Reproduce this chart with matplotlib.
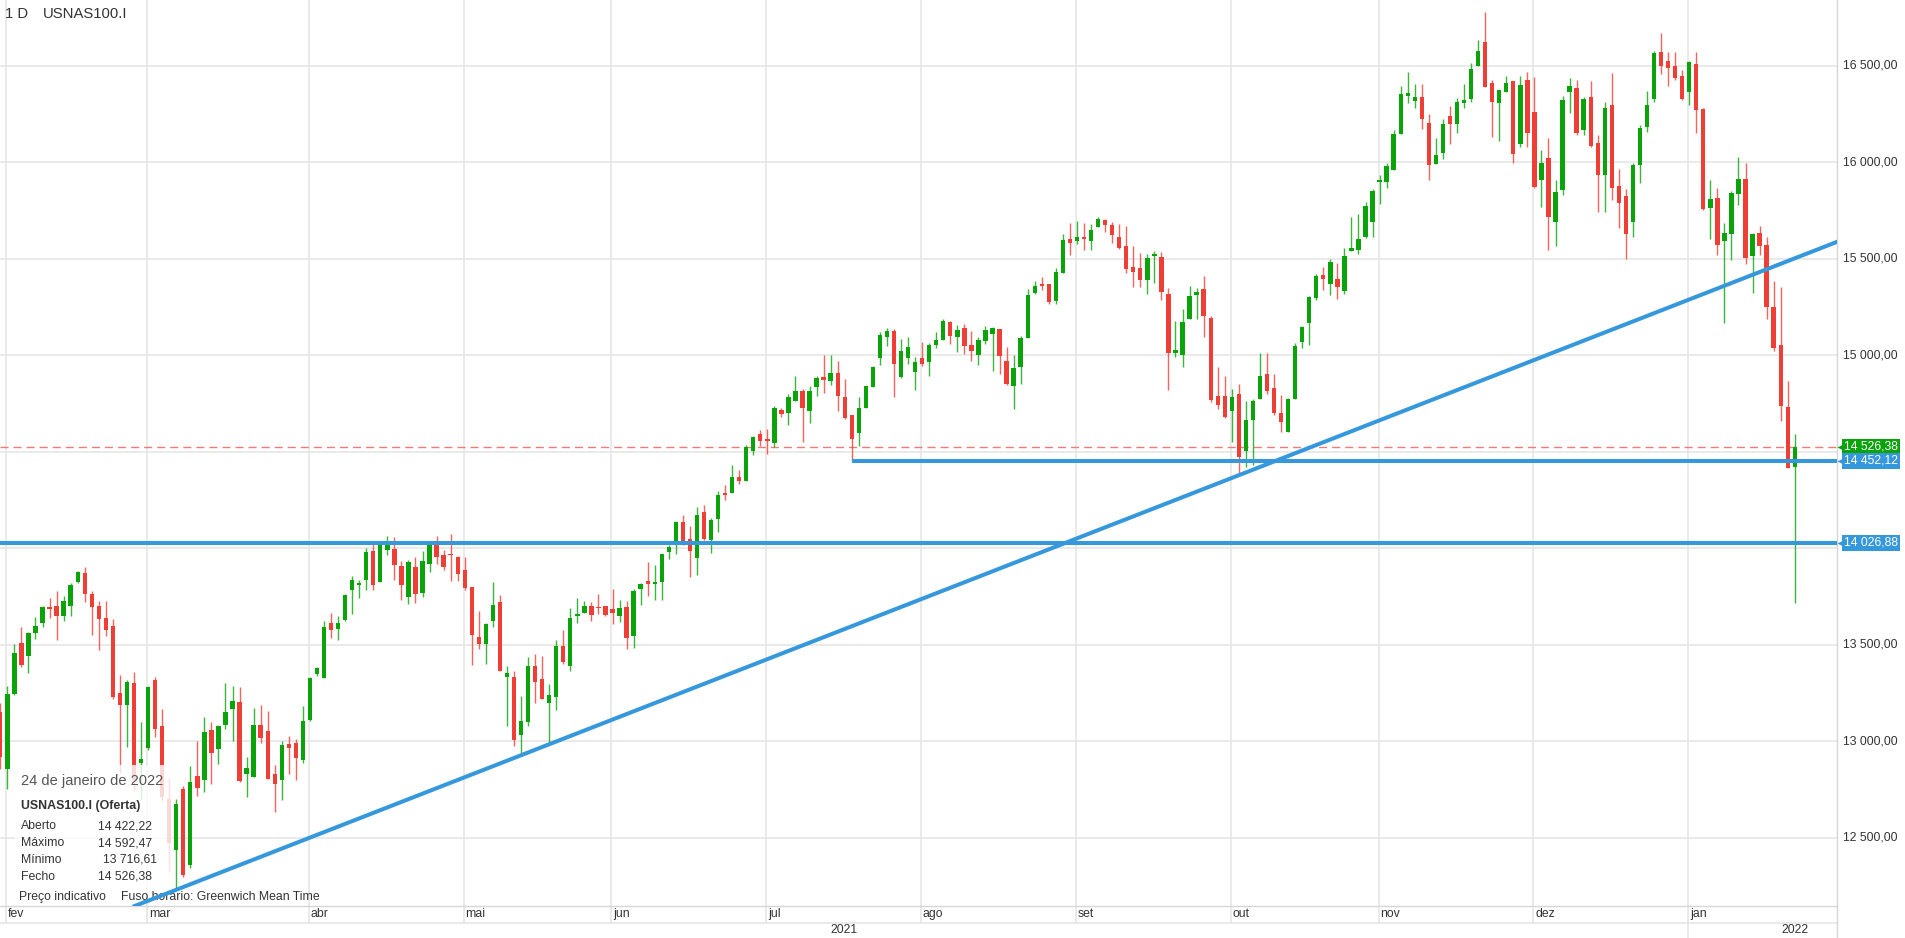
import matplotlib
matplotlib.use('Agg')
import matplotlib.pyplot as plt
import matplotlib.transforms as mtransforms
from matplotlib.patches import Rectangle
import numpy as np
import pandas as pd

plt.rcParams['font.family'] = ['Liberation Sans', 'DejaVu Sans']

SYMBOL = 'USNAS100.I'
TIMEFRAME = '1 D'
MONTHS_PT = ['jan', 'fev', 'mar', 'abr', 'mai', 'jun', 'jul', 'ago', 'set', 'out', 'nov', 'dez']

# daily sessions shown (no candle on Christmas Eve)
dates = pd.bdate_range('2021-01-29', '2022-01-24')
dates = dates[dates != pd.Timestamp('2021-12-24')]

opens = [
    13150,
    12855, 13245, 13509, 13440, 13560, 13611, 13693, 13702, 13651, 13699, 13827, 13873, 13762, 13702, 13639, 13599, 13248, 13185, 13300, 12889,
    12966, 13317, 13077, 12700, 12435, 12752, 12358, 12817, 12800, 13057, 12957, 13082, 13166, 13202, 12832, 12812, 13086, 13055, 12829, 12800, 12983, 12988, 12902,
    13108, 13348, 13325, 13613, 13580, 13628, 13782, 13810, 13834, 13984, 13825, 13988, 13997, 13907, 13745, 13902, 13770, 13916, 14027, 13967, 13972, 13954,
    13889, 13800, 13539, 13502, 13621, 13723, 13334, 13331, 13034, 13099, 13389, 13322, 13197, 13228, 13491, 13390, 13651, 13664, 13700, 13697, 13700,
    13684, 13650, 13695, 13544, 13788, 13829, 13814, 13826, 13980, 14014, 14133, 14048, 13951, 14189, 14044, 14150, 14287, 14287, 14369, 14350, 14503, 14590,
    14568, 14543, 14717, 14701, 14765, 14816, 14710, 14833, 14887, 14867, 14906, 14785, 14688, 14597, 14727, 14836, 14986, 15095, 15123, 14887, 14986, 14913,
    14983, 14965, 15050, 15081, 15170, 15093, 15140, 15050, 15002, 15071, 15111, 15137, 14972, 14841, 14940, 15090, 15320, 15367, 15370, 15280, 15427, 15604,
    15592, 15613, 15590, 15663, 15701, 15675, 15614, 15566, 15457, 15450, 15390, 15512, 15509, 15315, 15009, 15000, 15185, 15310, 15341, 15190, 14787, 14787,
    14712, 14799, 14505, 14665, 14775, 14903, 14830, 14700, 14601, 14775, 15069, 15165, 15295, 15416, 15368, 15394, 15330, 15541, 15545, 15610, 15688,
    15896, 15896, 15957, 16145, 16344, 16318, 16335, 16205, 15992, 16047, 16238, 16200, 16304, 16328, 16498, 16620, 16412, 16304, 16365, 16420, 16093, 16425,
    16262, 15905, 16020, 15692, 15857, 16361, 16383, 16169, 16337, 16099, 15931, 16294, 15877, 15825, 15692, 15984, 16183, 16327, 16571, 16526, 16496, 16446,
    16361, 16506, 16274, 15762, 15816, 15593, 15627, 15835, 15911, 15514, 15633, 15573, 15252, 15054, 14730, 14422.22,
]
highs = [
    13200,
    13288, 13505, 13594, 13565, 13645, 13702, 13741, 13776, 13753, 13817, 13882, 13902, 13779, 13728, 13728, 13634, 13342, 13317, 13360, 13098,
    13288, 13334, 13165, 12810, 12700, 12769, 12872, 13000, 13125, 13098, 13086, 13300, 13286, 13283, 12920, 13171, 13188, 13154, 12875, 13000, 13026, 13012, 13180,
    13335, 13385, 13625, 13664, 13651, 13762, 13856, 13836, 14002, 14036, 14039, 14061, 14056, 13936, 13937, 13954, 13984, 14036, 14062, 13993, 14075, 13960,
    13954, 13800, 13676, 13610, 13825, 13757, 13389, 13363, 13235, 13437, 13454, 13440, 13295, 13522, 13574, 13690, 13741, 13728, 13719, 13765, 13700,
    13788, 13729, 13724, 13788, 13817, 13928, 13915, 13971, 14014, 14142, 14171, 14113, 14215, 14222, 14154, 14295, 14329, 14432, 14406, 14534, 14580, 14614,
    14619, 14739, 14727, 14799, 14892, 14824, 14841, 14892, 15003, 15003, 14969, 14875, 14688, 14785, 14841, 14944, 15119, 15140, 15136, 15085, 15092, 14991,
    15068, 15064, 15121, 15188, 15175, 15157, 15163, 15123, 15093, 15149, 15144, 15137, 15040, 15003, 15099, 15341, 15384, 15405, 15370, 15453, 15626, 15687,
    15697, 15687, 15680, 15715, 15706, 15689, 15680, 15670, 15566, 15528, 15523, 15541, 15535, 15350, 15176, 15237, 15358, 15350, 15410, 15202, 14936, 14891,
    14827, 14848, 14760, 14774, 15012, 15012, 14903, 14791, 14778, 15064, 15151, 15307, 15420, 15458, 15498, 15477, 15555, 15718, 15732, 15792, 15862,
    15931, 15997, 16165, 16394, 16465, 16405, 16405, 16249, 16127, 16226, 16290, 16330, 16405, 16512, 16634, 16777, 16425, 16373, 16446, 16420, 16446, 16469,
    16443, 16065, 16125, 15905, 16343, 16437, 16423, 16337, 16421, 16139, 16312, 16462, 15964, 15861, 15996, 16194, 16367, 16575, 16671, 16571, 16571, 16476,
    16526, 16571, 16282, 15905, 15867, 15687, 15851, 16024, 15996, 15633, 15667, 15613, 15385, 15355, 14865, 14592.47,
]
lows = [
    12855,
    12750, 13240, 13385, 13354, 13531, 13594, 13639, 13526, 13622, 13651, 13822, 13719, 13548, 13474, 13543, 13220, 12837, 12971, 12740, 12700,
    12954, 13020, 12690, 12320, 12230, 12298, 12341, 12714, 12735, 12778, 12880, 13063, 13000, 12786, 12709, 12812, 12992, 12803, 12632, 12695, 12829, 12800, 12885,
    13103, 13340, 13325, 13536, 13526, 13625, 13659, 13741, 13782, 13782, 13825, 13962, 13834, 13731, 13711, 13716, 13748, 13878, 13919, 13885, 13830, 13830,
    13782, 13394, 13479, 13399, 13594, 13363, 13081, 12974, 12927, 13081, 13197, 13218, 12983, 13159, 13402, 13365, 13611, 13663, 13622, 13659, 13651,
    13607, 13618, 13480, 13485, 13703, 13754, 13732, 13732, 13942, 13971, 14017, 13852, 13863, 14043, 13976, 14085, 14249, 14287, 14334, 14350, 14483, 14529,
    14486, 14526, 14679, 14637, 14765, 14551, 14650, 14790, 14802, 14846, 14713, 14671, 14452.12, 14529, 14727, 14833, 14950, 15048, 14785, 14881, 14956, 14820,
    14946, 14891, 15035, 15078, 15057, 15014, 15007, 14969, 14948, 15057, 14920, 14902, 14846, 14722, 14850, 15090, 15315, 15336, 15263, 15266, 15424, 15519,
    15578, 15547, 15547, 15663, 15640, 15580, 15550, 15428, 15353, 15353, 15315, 15374, 15287, 14818, 14990, 14938, 15185, 15189, 15093, 14756, 14721, 14675,
    14549, 14383, 14418, 14431, 14775, 14799, 14691, 14601, 14601, 14775, 15035, 15052, 15284, 15336, 15312, 15290, 15316, 15541, 15524, 15607, 15614,
    15784, 15867, 15957, 16145, 16304, 16283, 16174, 15909, 15988, 16018, 16096, 16151, 16278, 16313, 16498, 16387, 16131, 16110, 16365, 15997, 16079, 16079,
    15865, 15768, 15544, 15564, 15831, 16254, 16143, 16139, 16079, 15742, 15742, 15802, 15657, 15500, 15613, 15891, 16155, 16313, 16456, 16393, 16427, 16321,
    16298, 16149, 15752, 15603, 15520, 15167, 15494, 15778, 15470, 15321, 15520, 15187, 15024, 14661, 14413, 13716.61,
]
closes = [
    12920,
    13245, 13459, 13394, 13560, 13599, 13693, 13685, 13651, 13728, 13808, 13878, 13762, 13697, 13633, 13577, 13228, 13188, 13308, 12800, 12906,
    13283, 13063, 12710, 12470, 12675, 12307, 12790, 12755, 13046, 12940, 13081, 13149, 13206, 12795, 12860, 13086, 13014, 12803, 12778, 12978, 12966, 12914, 13106,
    13325, 13377, 13594, 13577, 13611, 13759, 13836, 13818, 13979, 13808, 14032, 14032, 13911, 13808, 13928, 13762, 13933, 14031, 13954, 13902, 13962, 13865,
    13791, 13548, 13502, 13608, 13707, 13363, 13354, 13005, 13106, 13389, 13305, 13218, 13240, 13491, 13408, 13639, 13659, 13700, 13656, 13690, 13656,
    13664, 13689, 13536, 13780, 13814, 13814, 13826, 13971, 14005, 14138, 14039, 13985, 14171, 14048, 14147, 14273, 14273, 14369, 14350, 14526, 14577, 14556,
    14556, 14727, 14693, 14785, 14816, 14727, 14816, 14881, 14872, 14906, 14790, 14676, 14563, 14727, 14838, 14939, 15102, 15123, 14956, 15020, 15041, 14962,
    14955, 15052, 15078, 15175, 15100, 15128, 15048, 15022, 15076, 15128, 15140, 14997, 14850, 14931, 15087, 15311, 15358, 15358, 15277, 15431, 15597, 15580,
    15613, 15601, 15649, 15703, 15675, 15623, 15555, 15445, 15431, 15388, 15502, 15524, 15329, 15009, 15026, 15171, 15306, 15327, 15202, 14766, 14744, 14678,
    14782, 14470, 14665, 14761, 14891, 14816, 14700, 14652, 14775, 15047, 15146, 15302, 15411, 15394, 15480, 15354, 15515, 15555, 15602, 15775, 15853,
    15905, 15978, 16145, 16353, 16360, 16339, 16226, 15987, 16035, 16197, 16200, 16313, 16321, 16481, 16578, 16387, 16313, 16373, 16412, 16044, 16399, 16153,
    15871, 15996, 15718, 15845, 16323, 16397, 16149, 16327, 16085, 15931, 16282, 15867, 15788, 15627, 15984, 16179, 16298, 16565, 16496, 16490, 16437, 16327,
    16520, 16268, 15758, 15808, 15573, 15633, 15841, 15911, 15504, 15627, 15564, 15252, 15038, 14734, 14417, 14526.38,
]
assert len(opens) == len(highs) == len(lows) == len(closes) == len(dates)

# drawn levels
support_levels = [14026.88, 14452.12]
support_from = ['2021-01-29', '2021-07-19']
trend_dates = ['2021-03-05', '2021-05-13']   # trendline through these lows
price_ticks = [12500, 13000, 13500, 14000, 14500, 15000, 15500, 16000, 16500]

GREEN = '#0aa30a'
RED = '#ee3e35'
BLUE = '#3598dc'
GRID = '#e4e4e4'
TXT = '#333333'

W, H = 1905, 938
AX_W, AX_H = 1837, 906
Y_MIN, Y_MAX = 12146, 16840
X_MIN, X_MAX = -0.04, 261.0

fig = plt.figure(figsize=(W / 100, H / 100), dpi=100)
ax = fig.add_axes([0, (H - AX_H) / H, AX_W / W, AX_H / H])
ax.set_xlim(X_MIN, X_MAX)
ax.set_ylim(Y_MIN, Y_MAX)
ax.set_xticks([])
ax.set_yticks([])
for side in ['top', 'left']:
    ax.spines[side].set_visible(False)
for side in ['right', 'bottom']:
    ax.spines[side].set_color('#d6d6d6')
    ax.spines[side].set_linewidth(1.0)

o = np.array(opens, dtype=float)
h = np.array(highs, dtype=float)
l = np.array(lows, dtype=float)
c = np.array(closes, dtype=float)
pos = np.arange(len(dates))
idx = {d.strftime('%Y-%m-%d'): i for i, d in enumerate(dates)}

# grid
for v in price_ticks:
    ax.axhline(v, color=GRID, lw=1.1, zorder=0)
month_starts = [i for i in range(1, len(dates)) if dates[i].month != dates[i - 1].month]
xtrans = ax.get_xaxis_transform()
row1 = -16.7 / AX_H
row2 = -(H - AX_H) / AX_H
for i in month_starts:
    gx = i - 0.15
    ax.axvline(gx, color=GRID, lw=1.1, zorder=0)
    ax.plot([gx, gx], [0, row1], color=GRID, lw=1.1, transform=xtrans, clip_on=False)
    ax.text(gx + 0.25, row1 / 2, MONTHS_PT[dates[i].month - 1], transform=xtrans,
            ha='left', va='center', fontsize=8.8, color=TXT)
ax.plot([0, 1], [row1, row1], color=GRID, lw=1.1, transform=ax.transAxes, clip_on=False)
ax.plot([1, 1], [0, row2], color='#d6d6d6', lw=1.0, transform=ax.transAxes, clip_on=False)

# year row
jan_i = [i for i in month_starts if dates[i].month == 1][0]
ax.plot([jan_i - 0.15] * 2, [row1, row2], color=GRID, lw=1.1, transform=xtrans, clip_on=False)
ax.text((X_MIN + jan_i - 0.15) / 2, (row1 + row2) / 2, str(dates[0].year), transform=xtrans,
        ha='center', va='center', fontsize=8.8, color=TXT)
ax.text(pos[-1], (row1 + row2) / 2, str(dates[-1].year), transform=xtrans,
        ha='center', va='center', fontsize=8.8, color=TXT)

# candles
up = c >= o
body_col = np.where(up, GREEN, RED)
ax.vlines(pos, l, h, colors=body_col, lw=1.0, alpha=0.8, zorder=3)
body_lo = np.minimum(o, c)
body_h = np.maximum(np.abs(c - o), 6)
ax.bar(pos, body_h, bottom=body_lo, width=0.62, color=body_col, linewidth=0, zorder=4)

# last price line
last = c[-1]
ax.axhline(last, color='#f07b76', lw=1.0, ls=(0, (5.8, 3.6)), zorder=2)

# support levels and trendline
for lvl, start in zip(support_levels, support_from):
    ax.hlines(lvl, idx[start] if start != support_from[0] else X_MIN, X_MAX,
              color=BLUE, lw=2.9, zorder=8)
ta, tb = idx[trend_dates[0]], idx[trend_dates[1]]
ax.axline((ta, l[ta]), (tb, l[tb]), color=BLUE, lw=2.9, zorder=9)


def fmt(v):
    return f'{v:,.2f}'.replace(',', ' ').replace('.', ',')


ytrans = mtransforms.blended_transform_factory(ax.transAxes, ax.transData)
box_h = 16 * (Y_MAX - Y_MIN) / AX_H
price_boxes = [(last, GREEN), (support_levels[1], BLUE), (support_levels[0], BLUE)]

# price scale labels (those under a price box are hidden, as on the platform)
for v in price_ticks:
    if any(abs(v - b) < box_h for b, _ in price_boxes):
        continue
    ax.text(1 + 6 / AX_W, v, fmt(v), transform=ytrans, ha='left', va='center',
            fontsize=8.8, color=TXT, clip_on=False, zorder=9)

for val, fc in price_boxes:
    ax.add_patch(Rectangle((1 + 4.7 / AX_W, val - box_h / 2), 58.5 / AX_W, box_h,
                           transform=ytrans, facecolor=fc, edgecolor='none',
                           clip_on=False, zorder=10))
    ax.plot([1 + 2.8 / AX_W], [val], marker='<', ms=5, color=fc, mec='none',
            transform=ytrans, clip_on=False, zorder=10)
    ax.text(1 + 34 / AX_W, val, fmt(val), transform=ytrans, ha='center', va='center',
            fontsize=8.8, color='white', clip_on=False, zorder=11)

# header
ax.text(5.3 / W, 1 - 13.5 / H, TIMEFRAME, transform=fig.transFigure, ha='left', va='center',
        fontsize=10.7, color=TXT)
ax.text(43 / W, 1 - 13.5 / H, SYMBOL, transform=fig.transFigure, ha='left', va='center',
        fontsize=10.7, color=TXT)

# info box for the last candle
ax.add_patch(Rectangle((15 / W, 1 - 893 / H), 157 / W, 128 / H, transform=fig.transFigure,
                       facecolor='white', edgecolor='none', alpha=0.8, clip_on=False, zorder=6))
d = dates[-1]
PT_FULL = ['janeiro', 'fevereiro', 'março', 'abril', 'maio', 'junho', 'julho', 'agosto',
           'setembro', 'outubro', 'novembro', 'dezembro']
ax.text(20.7 / W, 1 - 780.7 / H, f'{d.day} de {PT_FULL[d.month - 1]} de {d.year}',
        transform=fig.transFigure, ha='left', va='center', fontsize=10.5, color='#555555', zorder=7)
ax.text(20.7 / W, 1 - 806 / H, f'{SYMBOL} (Oferta)', transform=fig.transFigure, ha='left',
        va='center', fontsize=8.9, fontweight='bold', color=TXT, zorder=7)
rows = [('Aberto', o[-1], 826, 98.3), ('Máximo', h[-1], 843, 98.3),
        ('Mínimo', l[-1], 859.5, 103.3), ('Fecho', c[-1], 876.7, 98.3)]
for name, val, yy, vx in rows:
    ax.text(20.7 / W, 1 - yy / H, name, transform=fig.transFigure, ha='left', va='center',
            fontsize=8.8, color=TXT, zorder=7)
    ax.text(vx / W, 1 - yy / H, fmt(val), transform=fig.transFigure, ha='left', va='center',
            fontsize=8.8, color=TXT, zorder=7)
ax.text(19.3 / W, 1 - 897.3 / H, 'Preço indicativo', transform=fig.transFigure, ha='left',
        va='center', fontsize=8.8, color=TXT, zorder=7)
ax.text(121 / W, 1 - 897.3 / H, 'Fuso horário: Greenwich Mean Time', transform=fig.transFigure,
        ha='left', va='center', fontsize=8.8, color=TXT, zorder=7)

fig.savefig('out.png', dpi=100)
plt.close(fig)
